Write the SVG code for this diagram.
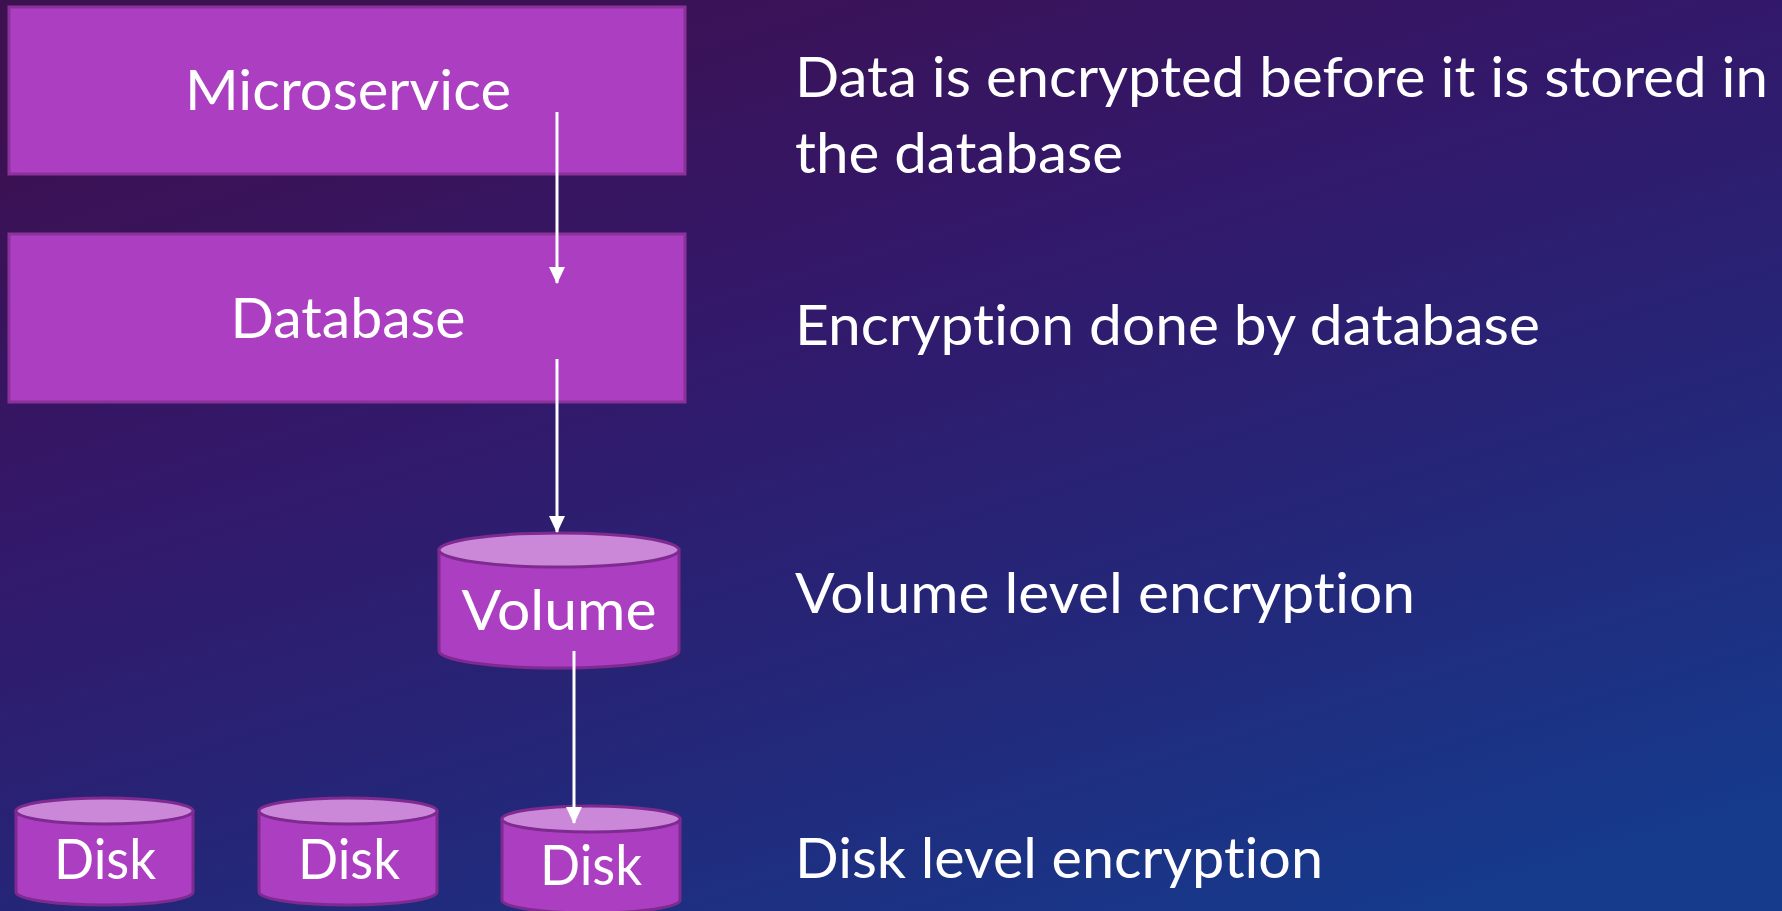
<svg xmlns="http://www.w3.org/2000/svg" width="1782" height="911" viewBox="0 0 1782 911">
<defs>
<linearGradient id="bg" x1="0.2" y1="0" x2="0.8" y2="1">
<stop offset="0" stop-color="#3d1050"/>
<stop offset="0.35" stop-color="#33186a"/>
<stop offset="0.7" stop-color="#23287a"/>
<stop offset="1" stop-color="#163a8c"/>
</linearGradient>
<marker id="ah" markerUnits="userSpaceOnUse" markerWidth="18" markerHeight="18" refX="16" refY="8" orient="auto">
<path d="M0,0 L17,8 L0,16 Z" fill="#ffffff"/>
</marker>
<style>
.box{fill:#ac3fc1;stroke:#8a3299;stroke-width:3}
.cyl{fill:#ac3fc1;stroke:#7e2a90;stroke-width:3}
.cap{fill:#cb88d8;stroke:#7e2a90;stroke-width:3}
.lbl{font-family:Lato,"Liberation Sans",sans-serif;font-size:57px;fill:#ffffff;font-variant-ligatures:none;font-feature-settings:"liga" 0}
.conn{stroke:#ffffff;stroke-width:3;fill:none;marker-end:url(#ah)}
</style>
</defs>
<rect width="1782" height="911" fill="url(#bg)"/>

<g id="microservice">
<rect class="box" x="9" y="7" width="676" height="167"/>
<text class="lbl" x="348" y="110" text-anchor="middle" textLength="326" lengthAdjust="spacingAndGlyphs">Microservice</text>
</g>

<g id="database">
<rect class="box" x="9" y="234" width="676" height="168"/>
<text class="lbl" x="348" y="338" text-anchor="middle" textLength="235" lengthAdjust="spacingAndGlyphs">Database</text>
</g>

<g id="volume">
<path class="cyl" d="M439,550 L439,651 A120,17 0 0 0 679,651 L679,550 Z"/>
<ellipse class="cap" cx="559" cy="550" rx="120" ry="17"/>
<text class="lbl" x="559" y="630" text-anchor="middle" textLength="195" lengthAdjust="spacingAndGlyphs">Volume</text>
</g>

<g id="disk1">
<path class="cyl" d="M16,811 L16,892 A88.5,13 0 0 0 193,892 L193,811 Z"/>
<ellipse class="cap" cx="104.5" cy="811" rx="88.5" ry="13"/>
<text class="lbl" x="105" y="879" text-anchor="middle" textLength="102" lengthAdjust="spacingAndGlyphs">Disk</text>
</g>

<g id="disk2">
<path class="cyl" d="M259,811 L259,892 A89,13 0 0 0 437,892 L437,811 Z"/>
<ellipse class="cap" cx="348" cy="811" rx="89" ry="13"/>
<text class="lbl" x="349" y="879" text-anchor="middle" textLength="102" lengthAdjust="spacingAndGlyphs">Disk</text>
</g>

<g id="disk3">
<path class="cyl" d="M502,819 L502,900 A89,13 0 0 0 680,900 L680,819 Z"/>
<ellipse class="cap" cx="591" cy="819" rx="89" ry="13"/>
<text class="lbl" x="591" y="885" text-anchor="middle" textLength="102" lengthAdjust="spacingAndGlyphs">Disk</text>
</g>

<g id="connectors">
<line class="conn" x1="557" y1="112" x2="557" y2="283"/>
<line class="conn" x1="557" y1="359" x2="557" y2="532"/>
<line class="conn" x1="574" y1="651" x2="574" y2="823"/>
</g>

<g id="descriptions">
<text class="lbl" x="795" y="97" textLength="973" lengthAdjust="spacingAndGlyphs">Data is encrypted before it is stored in</text>
<text class="lbl" x="795" y="173" textLength="328" lengthAdjust="spacingAndGlyphs">the database</text>
<text class="lbl" x="795" y="345" textLength="745" lengthAdjust="spacingAndGlyphs">Encryption done by database</text>
<text class="lbl" x="795" y="613" textLength="620" lengthAdjust="spacingAndGlyphs">Volume level encryption</text>
<text class="lbl" x="795" y="878" textLength="528" lengthAdjust="spacingAndGlyphs">Disk level encryption</text>
</g>
</svg>
